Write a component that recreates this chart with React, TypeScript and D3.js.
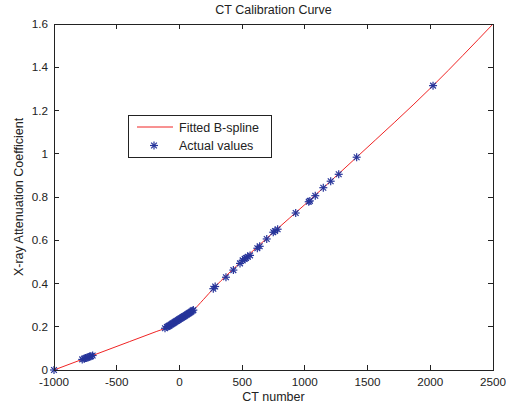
import React from "react";
import * as d3 from "d3";

// Fitted B-spline (knots)
const splineX = [-1000, -700, -400, -180, -115, -60, 0, 111, 190, 276, 500, 750, 1000, 1413, 2022, 2500];
const splineY = [0, 0.0654, 0.1308, 0.1788, 0.193, 0.2125, 0.235, 0.277, 0.325, 0.38, 0.505, 0.637, 0.765, 0.984, 1.315, 1.6];

// Actual values
const actualX = [
  -1000,
  -775, -760, -748, -738, -728, -716, -705, -692,
  -115, -100, -92, -85, -78, -70, -62, -55, -48, -40, -33, -25, -18, -10, -3,
  5, 12, 20, 28, 35, 42, 50, 58, 65, 73, 80, 88, 95, 103, 111,
  270, 285, 371, 430, 483, 504, 520, 531, 545, 563, 621, 640, 696, 748, 762, 783,
  927, 1031, 1040, 1083, 1147, 1206, 1270, 1413, 2022,
];
const actualY = [
  0,
  0.049, 0.052, 0.055, 0.057, 0.059, 0.062, 0.064, 0.067,
  0.193, 0.199, 0.201, 0.204, 0.206, 0.209, 0.212, 0.215, 0.217, 0.22, 0.223, 0.226, 0.228, 0.231, 0.234,
  0.237, 0.239, 0.242, 0.245, 0.248, 0.25, 0.253, 0.256, 0.259, 0.262, 0.264, 0.267, 0.27, 0.274, 0.277,
  0.376, 0.386, 0.429, 0.462, 0.493, 0.507, 0.514, 0.518, 0.524, 0.53, 0.563, 0.572, 0.606, 0.637, 0.643, 0.651,
  0.726, 0.778, 0.782, 0.806, 0.843, 0.873, 0.905, 0.984, 1.315,
];

const xTicks = [-1000, -500, 0, 500, 1000, 1500, 2000, 2500];
const yTicks = [0, 0.2, 0.4, 0.6, 0.8, 1, 1.2, 1.4, 1.6];

const title = "CT Calibration Curve";
const xLabel = "CT number";
const yLabel = "X-ray Attenuation Coefficient";
const legendLabels = ["Fitted B-spline", "Actual values"];

const W = 506;
const H = 406;
const M = { left: 54, top: 24, right: 493, bottom: 370 };
const LINE = "#f02424";
const MARK = "#26349a";
const FONT = "'Liberation Sans', Arial, Helvetica, sans-serif";

function Asterisk({ cx, cy, r }: { cx: number; cy: number; r: number }) {
  const d = r * 0.72;
  return (
    <g stroke={MARK} strokeWidth={1.2}>
      <line x1={cx - r} y1={cy} x2={cx + r} y2={cy} />
      <line x1={cx} y1={cy - r} x2={cx} y2={cy + r} />
      <line x1={cx - d} y1={cy - d} x2={cx + d} y2={cy + d} />
      <line x1={cx - d} y1={cy + d} x2={cx + d} y2={cy - d} />
    </g>
  );
}

export default function App() {
  const x = d3.scaleLinear().domain([-1000, 2500]).range([M.left, M.right]);
  const y = d3.scaleLinear().domain([0, 1.6]).range([M.bottom, M.top]);

  const pts: [number, number][] = splineX.map((v, i) => [v, splineY[i]]);
  const lineGen = d3
    .line<[number, number]>()
    .x((d) => x(d[0]))
    .y((d) => y(d[1]))
    .curve(d3.curveMonotoneX);
  const path = lineGen(pts) || "";

  const tick = 5;
  const lx = 128, ly = 115.5, lw = 143, lh = 41.5;

  return (
    <svg
      width={W}
      height={H}
      style={{ position: "absolute", left: 0, top: 0, background: "#fff" }}
      fontFamily={FONT}
    >
      <rect x={0} y={0} width={W} height={H} fill="#fff" />
      <defs>
        <clipPath id="plotclip">
          <rect x={M.left} y={M.top - 1} width={M.right - M.left + 1} height={M.bottom - M.top + 2} />
        </clipPath>
      </defs>

      {/* curve */}
      <path d={path} fill="none" stroke={LINE} strokeWidth={1} clipPath="url(#plotclip)" />

      {/* points */}
      <g>
        {actualX.map((v, i) => (
          <Asterisk key={i} cx={x(v)} cy={y(actualY[i])} r={4} />
        ))}
      </g>

      {/* axes box */}
      <rect
        x={M.left}
        y={M.top}
        width={M.right - M.left}
        height={M.bottom - M.top}
        fill="none"
        stroke="#222"
        strokeWidth={1}
        shapeRendering="crispEdges"
      />

      {/* ticks */}
      <g stroke="#222" strokeWidth={1} shapeRendering="crispEdges">
        {xTicks.map((t) => (
          <g key={"xt" + t}>
            <line x1={x(t)} x2={x(t)} y1={M.bottom} y2={M.bottom - tick} />
            <line x1={x(t)} x2={x(t)} y1={M.top} y2={M.top + tick} />
          </g>
        ))}
        {yTicks.map((t) => (
          <g key={"yt" + t}>
            <line x1={M.left} x2={M.left + tick} y1={y(t)} y2={y(t)} />
            <line x1={M.right} x2={M.right - tick} y1={y(t)} y2={y(t)} />
          </g>
        ))}
      </g>

      <g fill="#222" fontSize={11.7}>
        {xTicks.map((t) => (
          <text key={"xl" + t} x={x(t)} y={385.5} textAnchor="middle">
            {String(t)}
          </text>
        ))}
        {yTicks.map((t) => (
          <text key={"yl" + t} x={M.left - 6} y={y(t) + 4.2} textAnchor="end">
            {String(t)}
          </text>
        ))}
      </g>

      {/* title and labels */}
      <text x={(M.left + M.right) / 2} y={14} textAnchor="middle" fontSize={12.5} fill="#222">
        {title}
      </text>
      <text x={(M.left + M.right) / 2} y={401} textAnchor="middle" fontSize={12.5} fill="#222">
        {xLabel}
      </text>
      <text
        transform={`translate(23, ${(M.top + M.bottom) / 2}) rotate(-90)`}
        textAnchor="middle"
        fontSize={12.5}
        fill="#222"
      >
        {yLabel}
      </text>

      {/* legend */}
      <rect x={lx} y={ly} width={lw} height={lh} fill="#fff" stroke="#222" strokeWidth={1} shapeRendering="crispEdges" />
      <line x1={137} x2={173} y1={127} y2={127} stroke={LINE} strokeWidth={1} />
      <Asterisk cx={154} cy={145.5} r={4} />
      <text x={179} y={131.5} fontSize={12.5} fill="#222">
        {legendLabels[0]}
      </text>
      <text x={179} y={150} fontSize={12.5} fill="#222">
        {legendLabels[1]}
      </text>
    </svg>
  );
}
